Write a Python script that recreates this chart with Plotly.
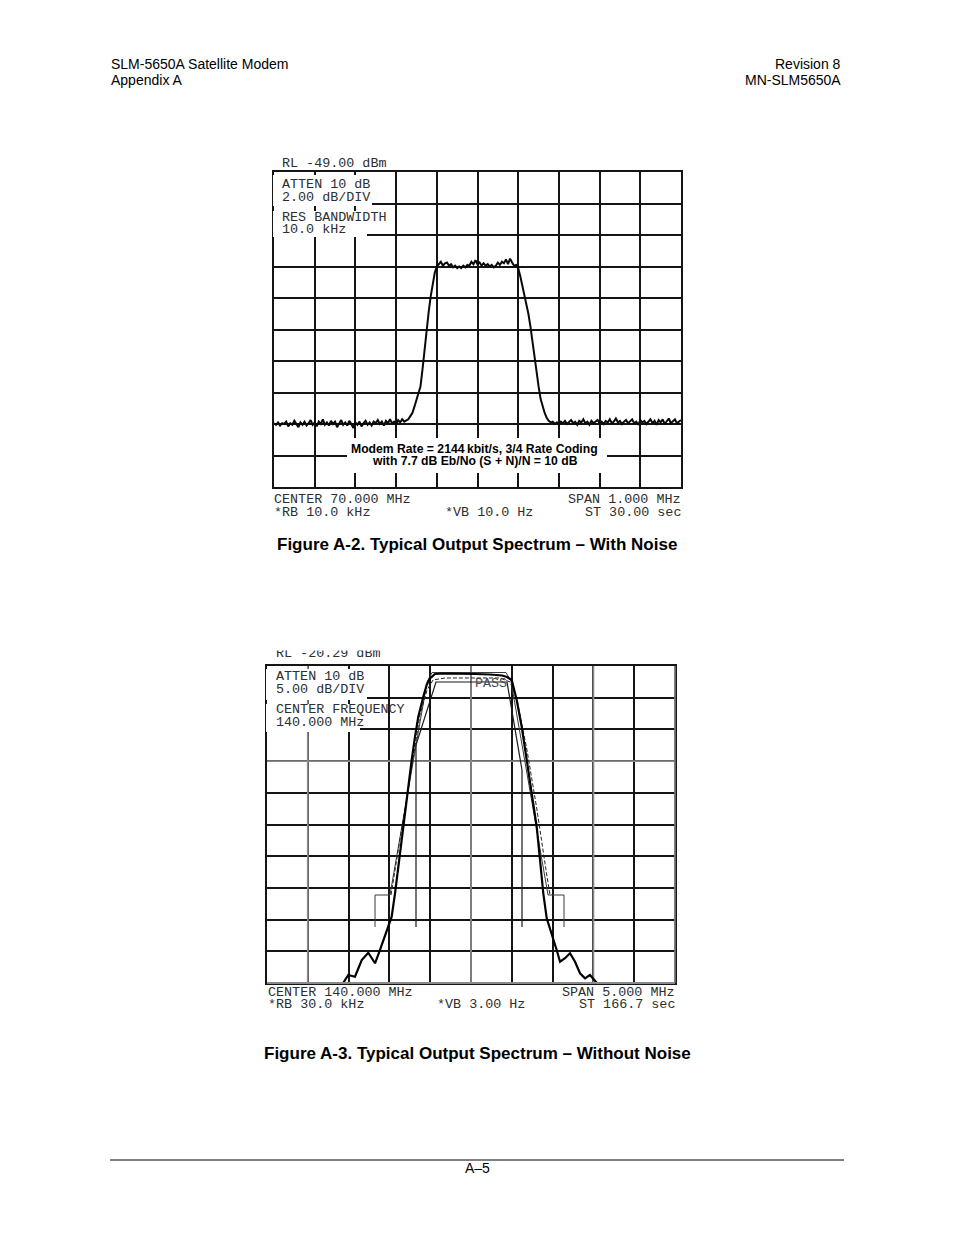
import plotly.graph_objects as go

W, H = 954, 1235

# ---------------- Figure A-2 data (with noise) ----------------
top_freq_mhz = [
    69.500, 69.505, 69.510, 69.515, 69.520, 69.525, 69.530, 69.535, 69.540, 69.545,
    69.550, 69.555, 69.560, 69.565, 69.570, 69.575, 69.580, 69.585, 69.590, 69.595,
    69.600, 69.605, 69.610, 69.615, 69.620, 69.625, 69.630, 69.635, 69.640, 69.645,
    69.650, 69.655, 69.660, 69.665, 69.670, 69.675, 69.680, 69.685, 69.690, 69.695,
    69.700, 69.705, 69.710, 69.715, 69.720, 69.725, 69.730, 69.735, 69.740, 69.745,
    69.750, 69.755, 69.760, 69.765, 69.770, 69.775, 69.780, 69.785, 69.790, 69.795,
    69.800, 69.805, 69.810, 69.815, 69.820, 69.825, 69.830, 69.835, 69.840, 69.845,
    69.850, 69.855, 69.860, 69.865, 69.870, 69.875, 69.880, 69.885, 69.890, 69.895,
    69.900, 69.905, 69.910, 69.915, 69.920, 69.925, 69.930, 69.935, 69.940, 69.945,
    69.950, 69.955, 69.960, 69.965, 69.970, 69.975, 69.980, 69.985, 69.990, 69.995,
    70.000, 70.005, 70.010, 70.015, 70.020, 70.025, 70.030, 70.035, 70.040, 70.045,
    70.050, 70.055, 70.060, 70.065, 70.070, 70.075, 70.080, 70.085, 70.090, 70.095,
    70.100, 70.105, 70.110, 70.115, 70.120, 70.125, 70.130, 70.135, 70.140, 70.145,
    70.150, 70.155, 70.160, 70.165, 70.170, 70.175, 70.180, 70.185, 70.190, 70.195,
    70.200, 70.205, 70.210, 70.215, 70.220, 70.225, 70.230, 70.235, 70.240, 70.245,
    70.250, 70.255, 70.260, 70.265, 70.270, 70.275, 70.280, 70.285, 70.290, 70.295,
    70.300, 70.305, 70.310, 70.315, 70.320, 70.325, 70.330, 70.335, 70.340, 70.345,
    70.350, 70.355, 70.360, 70.365, 70.370, 70.375, 70.380, 70.385, 70.390, 70.395,
    70.400, 70.405, 70.410, 70.415, 70.420, 70.425, 70.430, 70.435, 70.440, 70.445,
    70.450, 70.455, 70.460, 70.465, 70.470, 70.475, 70.480, 70.485, 70.490, 70.495,
    70.500,
]
top_level_dbm = [
    -64.95, -65.05, -64.90, -65.10, -64.95, -65.00, -64.85, -65.15, -64.95, -65.05,
    -64.80, -65.00, -65.20, -64.90, -65.05, -64.85, -65.10, -64.95, -64.75, -65.05,
    -64.90, -65.15, -64.85, -65.00, -64.70, -65.05, -64.90, -65.10, -64.80, -65.00,
    -64.85, -65.20, -64.95, -64.75, -65.05, -64.90, -65.10, -64.80, -65.00, -65.25,
    -64.90, -65.05, -64.85, -65.15, -64.95, -64.80, -65.05, -64.90, -65.10, -64.85,
    -64.95, -64.75, -65.00, -64.85, -65.10, -64.80, -64.95, -64.70, -64.95, -64.85,
    -65.05, -64.75, -64.90, -64.70, -64.85, -64.80, -64.70, -64.50, -64.30, -63.90,
    -63.50, -63.10, -62.60, -61.50, -60.20, -59.10, -57.90, -56.90, -56.00, -55.40,
    -55.00, -54.85, -54.70, -54.95, -54.80, -54.75, -54.95, -54.85, -55.05, -54.95,
    -55.10, -55.00, -55.10, -54.95, -55.05, -54.90, -54.95, -54.70, -54.85, -54.60,
    -54.85, -54.75, -54.95, -54.80, -54.95, -54.85, -55.00, -54.90, -55.05, -54.95,
    -54.75, -54.90, -54.70, -54.80, -54.55, -54.85, -54.50, -54.75, -54.95, -54.90,
    -55.10, -55.60, -56.20, -56.80, -57.30, -58.00, -58.80, -59.80, -60.70, -61.70,
    -62.60, -63.40, -63.90, -64.30, -64.60, -64.80, -64.90, -64.85, -65.00, -64.90,
    -65.05, -64.85, -64.95, -64.80, -65.00, -64.90, -64.75, -64.95, -64.85, -65.05,
    -64.80, -64.90, -64.70, -64.95, -64.85, -65.05, -64.80, -64.95, -64.85, -64.75,
    -64.95, -64.85, -65.00, -64.80, -64.90, -64.70, -64.95, -64.85, -64.65, -64.90,
    -64.80, -65.00, -64.85, -64.75, -64.95, -64.80, -64.70, -64.95, -64.85, -65.05,
    -64.75, -64.90, -64.80, -65.00, -64.85, -64.70, -64.95, -64.80, -65.05, -64.75,
    -64.90, -64.70, -65.00, -64.85, -64.65, -64.95, -64.80, -64.70, -64.95, -64.85,
    -64.75,
]
top_x_range = [69.5, 70.5]      # CENTER 70 MHz, SPAN 1 MHz
top_y_range = [-69.0, -49.0]    # RL -49 dBm, 2 dB/div

# ---------------- Figure A-3 data (without noise) ----------------
bot_spec_freq = [138.435, 138.496, 138.578, 138.661, 138.741, 138.824, 138.885, 138.987,
                 139.028, 139.069, 139.109, 139.151, 139.191, 139.232, 139.273, 139.314,
                 139.354, 139.415, 139.457, 139.498, 139.559, 139.681, 139.865, 140.049,
                 140.233, 140.380, 140.441, 140.499, 140.560, 140.621, 140.683, 140.744,
                 140.805, 140.846, 140.886, 140.928, 140.989, 141.050, 141.091, 141.152,
                 141.213, 141.275, 141.336, 141.397, 141.458, 141.540]
bot_spec_dbm = [-70.25, -69.03, -69.30, -66.66, -65.51, -67.18, -65.08, -61.41,
                -59.83, -56.14, -51.95, -47.73, -43.52, -39.33, -35.12, -31.44,
                -28.29, -25.13, -23.29, -22.23, -21.55, -21.47, -21.47, -21.55,
                -21.63, -21.79, -22.02, -22.50, -25.65, -29.86, -35.12, -40.37,
                -45.64, -50.89, -56.14, -60.09, -62.45, -65.08, -66.93, -66.39,
                -65.60, -66.93, -68.76, -69.55, -69.03, -70.25]

bot_trace2_freq = [139.020, 139.130, 139.252, 139.375, 139.461, 139.534, 139.681, 140.355,
                   140.478, 140.564, 140.686, 140.809, 140.919, 140.968]
bot_trace2_dbm = [-56.41, -47.73, -37.48, -28.02, -24.08, -22.50, -22.18, -22.18,
                  -22.81, -25.65, -33.54, -43.00, -52.47, -56.41]

upper_mask_freq = [138.824, 138.824, 139.007, 139.461, 139.522, 140.429, 140.490, 140.944,
                   141.140, 141.140]
upper_mask_dbm = [-61.46, -56.41, -56.41, -22.81, -21.32, -21.32, -22.66, -56.41,
                  -56.41, -61.46]

lower_mask_freq = [139.326, 139.326, 139.571, 140.441, 140.625, 140.625]
lower_mask_dbm = [-61.46, -32.75, -22.81, -22.81, -36.69, -61.46]

bot_x_range = [137.5, 142.5]     # CENTER 140 MHz, SPAN 5 MHz
bot_y_range = [-70.29, -20.29]   # RL -20.29 dBm, 5 dB/div
bot_gray_vlines = [138.0, 140.0, 141.5]
bot_gray_hlines = [-35.29]


def px(x):
    return x / W


def py(y):
    return 1 - y / H


MONO = "Liberation Mono, Courier New, monospace"
SANS = "Liberation Sans, Arial, sans-serif"
GRID = "#151515"

fig = go.Figure()

fig.add_trace(go.Scatter(x=top_freq_mhz, y=top_level_dbm, mode="lines",
                         line=dict(color="#0a0a0a", width=2.0),
                         xaxis="x", yaxis="y", showlegend=False))

fig.add_trace(go.Scatter(x=upper_mask_freq, y=upper_mask_dbm, mode="lines",
                         line=dict(color="#3a3a3a", width=1.0),
                         xaxis="x2", yaxis="y2", showlegend=False))
fig.add_trace(go.Scatter(x=lower_mask_freq, y=lower_mask_dbm, mode="lines",
                         line=dict(color="#1a1a1a", width=1.2),
                         xaxis="x2", yaxis="y2", showlegend=False))
fig.add_trace(go.Scatter(x=bot_trace2_freq, y=bot_trace2_dbm, mode="lines",
                         line=dict(color="#222222", width=1.0, dash="4px,2px"),
                         xaxis="x2", yaxis="y2", showlegend=False))
fig.add_trace(go.Scatter(x=bot_spec_freq, y=bot_spec_dbm, mode="lines",
                         line=dict(color="#000000", width=2.2),
                         xaxis="x2", yaxis="y2", showlegend=False))

axis_common = dict(showgrid=True, gridcolor=GRID, gridwidth=1.5, zeroline=False,
                   showticklabels=False, ticks="", showline=True, mirror=True,
                   linecolor=GRID, linewidth=1.5, fixedrange=True)

fig.update_layout(
    width=W, height=H,
    margin=dict(l=0, r=0, t=0, b=0),
    paper_bgcolor="white", plot_bgcolor="white",
    showlegend=False,
    xaxis=dict(domain=[px(274), px(681)], range=top_x_range, dtick=0.1, tick0=69.5,
               anchor="y", **axis_common),
    yaxis=dict(domain=[py(487), py(172)], range=top_y_range, dtick=2, tick0=-49,
               anchor="x", **axis_common),
    xaxis2=dict(domain=[px(267), px(675)], range=bot_x_range, dtick=0.5, tick0=137.5,
                anchor="y2", **axis_common),
    yaxis2=dict(domain=[py(983), py(666)], range=bot_y_range, dtick=5, tick0=-20.29,
                anchor="x2", **axis_common),
)

shapes = []
GRAY = "#8a8a8a"
for v in bot_gray_vlines:
    shapes.append(dict(type="line", xref="x2", yref="y2", x0=v, x1=v,
                       y0=bot_y_range[0], y1=bot_y_range[1],
                       line=dict(color=GRAY, width=1.8), layer="between"))
for h in bot_gray_hlines:
    shapes.append(dict(type="line", xref="x2", yref="y2", x0=bot_x_range[0], x1=bot_x_range[1],
                       y0=h, y1=h, line=dict(color=GRAY, width=1.8), layer="between"))


def paper_line(x0, y0, x1, y1, color, width, layer="above"):
    shapes.append(dict(type="line", xref="paper", yref="paper",
                       x0=px(x0), x1=px(x1), y0=py(y0), y1=py(y1),
                       line=dict(color=color, width=width), layer=layer))


# lighter right / bottom frame edges of the lower plot
paper_line(267, 983, 675, 983, GRAY, 1.8)
paper_line(675, 666, 675, 983, "#707070", 1.8)


def white_box(x0, y0, x1, y1):
    shapes.append(dict(type="rect", xref="paper", yref="paper",
                       x0=px(x0), x1=px(x1), y0=py(y1), y1=py(y0),
                       fillcolor="white", line=dict(width=0), layer="above"))


# label boxes, top chart
white_box(273, 175, 372, 206)
white_box(273, 211, 367, 237)
white_box(347, 438, 607, 473)
# label boxes, bottom chart
white_box(266, 669, 367, 700)
white_box(266, 704, 360, 732)

# footer rule
paper_line(110, 1160, 844, 1160, "black", 1)

fig.update_layout(shapes=shapes)

ann = []


def text(s, x, y, anchor="left", font=MONO, size=13.4, color="#2e2e2e", bold=False):
    if bold:
        s = "<b>" + s + "</b>"
    ann.append(dict(text=s, x=px(x), y=py(y), xref="paper", yref="paper",
                    xanchor=anchor, yanchor="middle", showarrow=False,
                    font=dict(family=font, size=size, color=color), borderpad=0))


# page header
text("SLM-5650A Satellite Modem", 110, 64, font=SANS, size=14, color="black")
text("Appendix A", 110, 80, font=SANS, size=14, color="black")
text("Revision 8", 842, 64, anchor="right", font=SANS, size=14, color="black")
text("MN-SLM5650A", 842, 80, anchor="right", font=SANS, size=14, color="black")

# top chart labels
text("RL -49.00 dBm", 281, 163)
text("ATTEN 10 dB", 281, 185)
text("2.00 dB/DIV", 281, 197)
text("RES BANDWIDTH", 281, 218)
text("10.0 kHz", 281, 230)
text("Modem Rate = 2144\u2009kbit/s, 3/4 Rate Coding", 474.5, 449, anchor="center",
     font=SANS, size=12.2, color="black", bold=True)
text("with 7.7 dB Eb/No (S + N)/N = 10 dB", 474.5, 461, anchor="center",
     font=SANS, size=12.2, color="black", bold=True)
text("CENTER 70.000 MHz", 273, 499)
text("*RB 10.0 kHz", 273, 512)
text("*VB 10.0 Hz", 444, 512)
text("SPAN 1.000 MHz", 682, 499, anchor="right")
text("ST 30.00 sec", 682, 512, anchor="right")
text("Figure A-2. Typical Output Spectrum \u2013 With Noise", 476.5, 544, anchor="center",
     font=SANS, size=17, color="black", bold=True)

# bottom chart labels (top line is cut off on the page scan)
text("RL -20.29 dBm", 275, 653)
ann.append(dict(text=" ", x=px(268), y=py(651), xref="paper", yref="paper",
                xanchor="left", yanchor="bottom", showarrow=False, width=130, height=16,
                bgcolor="white", borderpad=0, font=dict(size=8)))
text("ATTEN 10 dB", 275, 676)
text("5.00 dB/DIV", 275, 689)
text("CENTER FREQUENCY", 275, 709)
text("140.000 MHz", 275, 722)
text("PASS", 474, 683, color="#4a4a4a")
text("CENTER 140.000 MHz", 267, 992)
text("*RB 30.0 kHz", 267, 1004)
text("*VB 3.00 Hz", 436, 1004)
text("SPAN 5.000 MHz", 676, 992, anchor="right")
text("ST 166.7 sec", 676, 1004, anchor="right")
text("Figure A-3. Typical Output Spectrum \u2013 Without Noise", 477, 1053, anchor="center",
     font=SANS, size=17, color="black", bold=True)

# footer
text("A\u20135", 477, 1168, anchor="center", font=SANS, size=14, color="black")

fig.update_layout(annotations=ann)

fig.write_html("out.html")
